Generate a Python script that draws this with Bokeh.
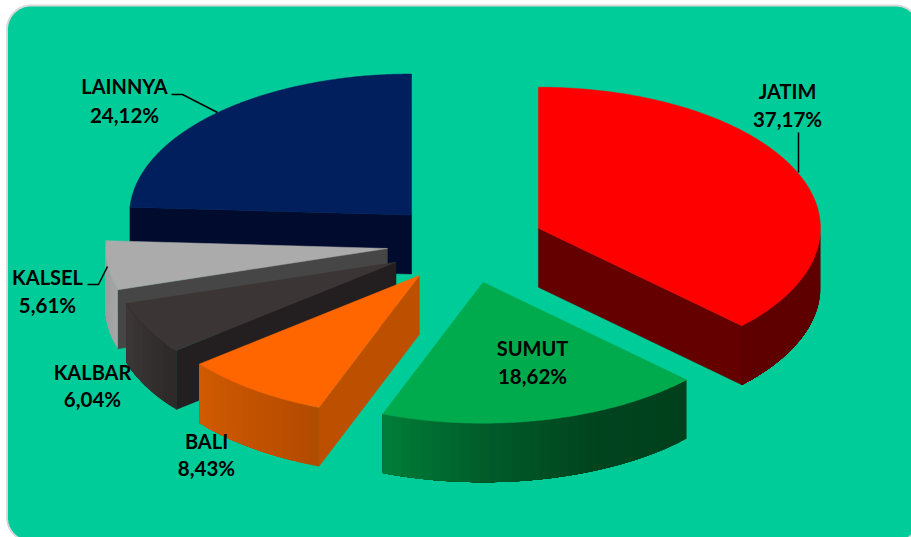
import numpy as np
from bokeh.core.properties import value
from bokeh.embed import file_html
from bokeh.plotting import figure
from bokeh.resources import INLINE

# Share of each region, in percent, clockwise from twelve o'clock
regions = ["JATIM", "SUMUT", "BALI", "KALBAR", "KALSEL", "LAINNYA"]
shares = [37.17, 18.62, 8.43, 6.04, 5.61, 24.12]

# Colours: top face, cut face, and stops along the outer wall
TOP = {"JATIM": "#ff0000", "SUMUT": "#00ab4e", "BALI": "#ff6600",
       "KALBAR": "#3b3635", "KALSEL": "#ababab", "LAINNYA": "#001f5c"}
CUT = {"JATIM": "#650000", "BALI": "#bd5000", "KALBAR": "#231f20",
       "KALSEL": "#464646", "LAINNYA": "#000b2e"}
WALL = {"JATIM": ["#5e0000", "#5e0000"],
        "SUMUT": ["#00401c", "#00441e", "#005a28", "#007d38"],
        "BALI": ["#b34b00", "#c25200", "#cf5a00"],
        "KALBAR": ["#2e2a2a", "#3b3737"],
        "KALSEL": ["#a5a5a5", "#9c9c9c"]}

# Pie projection, in page pixels
CX, CY, RX, RY = 465.3, 243.2, 282.0, 141.0
DEPTH, EXPLODE = 59.0, 0.28

# Label anchors (name line, value line share an x)
LABEL_POS = {"JATIM": (787, 90, 118), "SUMUT": (532, 347, 375), "BALI": (206, 440, 467),
             "KALBAR": (92, 371, 398), "KALSEL": (47, 276, 304), "LAINNYA": (124, 85, 114)}
LEADERS = [([171, 182, 217], [94, 94, 112]),
           ([798, 798], [132, 172]),
           ([87, 98, 107], [284, 284, 266])]

BG = "#00cc99"
FRAME = "#d9d9d9"


def rgb(h):
    return np.array([int(h[i:i + 2], 16) for i in (1, 3, 5)], float)


def ramp(stops, t):
    pos = t * (len(stops) - 1)
    i = min(int(pos), len(stops) - 2)
    c = rgb(stops[i]) + (rgb(stops[i + 1]) - rgb(stops[i])) * (pos - i)
    return "#%02x%02x%02x" % tuple(int(round(v)) for v in c)


def rim(ax, ay, deg):
    r = np.radians(deg)
    return ax + RX * np.sin(r), ay - RY * np.cos(r)


def rounded_frame(x0, y0, x1, y1, r):
    corners = [(x1 - r, y0 + r, -90, 0), (x1 - r, y1 - r, 0, 90),
               (x0 + r, y1 - r, 90, 180), (x0 + r, y0 + r, 180, 270)]
    xs, ys = [], []
    for cx, cy, a0, a1 in corners:
        t = np.radians(np.linspace(a0, a1, 24))
        xs.extend(cx + r * np.cos(t))
        ys.extend(cy + r * np.sin(t))
    return xs, ys


p = figure(width=911, height=537, x_range=(0, 911), y_range=(537, 0),
           output_backend="svg", toolbar_location=None, min_border=0,
           outline_line_color=None, background_fill_color="white",
           border_fill_color="white")
p.axis.visible = False
p.grid.visible = False

fx, fy = rounded_frame(6.5, 5, 919, 541, 24)
p.patch(fx, fy, fill_color=BG, line_color=FRAME, line_width=2)

# Sweep each slice from the running total of shares
edges = np.concatenate([[0], np.cumsum(shares)]) / sum(shares) * 360
slices = {}
for name, a0, a1 in zip(regions, edges[:-1], edges[1:]):
    mid = np.radians((a0 + a1) / 2)
    ax = CX + EXPLODE * RX * np.sin(mid)
    ay = CY - EXPLODE * RY * np.cos(mid)
    slices[name] = (a0, a1, ax, ay)

# Paint back to front so nearer slices overlap farther ones
for name in ["LAINNYA", "KALSEL", "KALBAR", "BALI", "SUMUT", "JATIM"]:
    a0, a1, ax, ay = slices[name]

    # Cut faces that turn towards the viewer
    for ang, visible in ((a0, 180 < a0 < 360), (a1, 0 < a1 < 180)):
        if visible:
            ex, ey = rim(ax, ay, ang)
            p.patch([ax, ex, ex, ax], [ay, ey, ey + DEPTH, ay + DEPTH],
                    fill_color=CUT[name], line_color=CUT[name], line_width=0.5)

    # Outer wall on the front half of the rim: each band runs to the far end
    # of the wall and the next one paints over it, so no seams show
    w0, w1 = max(a0, 90), min(a1, 270)
    if w1 > w0:
        bands = max(int((w1 - w0) / 2), 6)
        starts = np.linspace(w0, w1, bands, endpoint=False)
        for k, start in enumerate(starts):
            t = np.linspace(start, w1, 60)
            ex, ey = rim(ax, ay, t)
            col = ramp(WALL[name], k / max(bands - 1, 1))
            p.patch(np.r_[ex, ex[::-1]], np.r_[ey, ey[::-1] + DEPTH],
                    fill_color=col, line_color=None)

    # Top face
    t = np.linspace(a0, a1, 160)
    ex, ey = rim(ax, ay, t)
    p.patch(np.r_[ax, ex], np.r_[ay, ey], fill_color=TOP[name],
            line_color=TOP[name], line_width=0.5)

for lx, ly in LEADERS:
    p.line(lx, ly, line_color="black", line_width=1.5)

names_x, names_y, vals_x, vals_y, vals_text = [], [], [], [], []
for name, share in zip(regions, shares):
    x, y1, y2 = LABEL_POS[name]
    names_x.append(x)
    names_y.append(y1)
    vals_x.append(x)
    vals_y.append(y2)
    vals_text.append(f"{share:.2f}%".replace(".", ","))

for xs, ys, texts, size in ((names_x, names_y, regions, "20px"),
                            (vals_x, vals_y, vals_text, "20.5px")):
    p.text(xs, ys, text=texts, text_font=value("Lato"), text_font_style="bold",
           text_font_size=size, text_color="black", text_align="center",
           text_baseline="middle")

open("out.html", "w").write(file_html(p, INLINE))
